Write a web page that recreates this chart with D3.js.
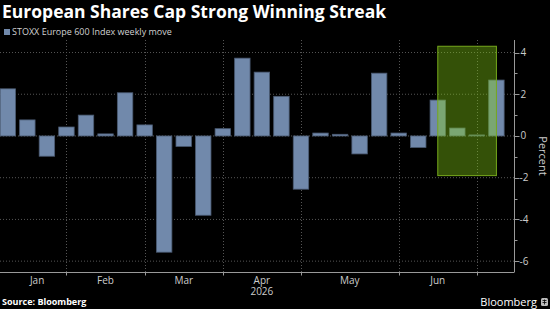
<!DOCTYPE html>
<html>
<head>
<meta charset="utf-8">
<script src="https://cdn.jsdelivr.net/npm/d3@7"></script>
<style>
  html, body { margin: 0; padding: 0; background: #000; }
  svg { display: block; }
</style>
</head>
<body>
<div class="chart-container"></div>
<script>
// weekly move of the STOXX Europe 600, in percent (one bar per week)
const weeklyMove = [2.26, 0.77, -0.97, 0.43, 1.0, 0.1, 2.07, 0.53, -5.57, -0.5, -3.8, 0.35, 3.73,
    3.06, 1.9, -2.55, 0.14, 0.08, -0.86, 3.01, 0.14, -0.55, 1.72, 0.38, 0.05, 2.68];
const months = ['Jan', 'Feb', 'Mar', 'Apr', 'May', 'Jun'];
// week index where each month starts / ends on the axis
const monthStart = [0, 3, 7, 11, 15, 20];
const monthEnd = [3, 7, 11, 15, 20, 24];
const yearLabel = '2026';
const yTicks = [4, 2, 0, -2, -4, -6];
const yMinorTicks = [3, 1, -1, -3, -5];
// green box over the last weeks
const highlightWeeks = [22, 25];
const highlightValues = [-1.9, 4.3];

const width = 550, height = 309;
const plot = { left: 0, right: 514, top: 40, bottom: 272 };

const svg = d3.select('.chart-container')
    .append('svg')
    .attr('width', width)
    .attr('height', height)
    .style('background', '#000');

// titre
svg.append('text')
    .attr('x', 2)
    .attr('y', 18)
    .attr('fill', '#fff')
    .attr('font-family', 'Open Sans, sans-serif')
    .attr('font-weight', 'bold')
    .attr('font-size', 17.5)
    .text('European Shares Cap Strong Winning Streak');

// legende
svg.append('rect')
    .attr('x', 4).attr('y', 29)
    .attr('width', 6).attr('height', 6)
    .attr('fill', '#7189ab');

svg.append('text')
    .attr('x', 12)
    .attr('y', 35)
    .attr('fill', '#d0d0d0')
    .attr('font-family', 'Open Sans, sans-serif')
    .attr('font-size', 9)
    .text('STOXX Europe 600 Index weekly move');

// echelles
const x = d3.scaleLinear()
    .domain([-0.4, 25.9])
    .range([plot.left, plot.right]);

const y = d3.scaleLinear()
    .domain([-6.52, 4.6])
    .range([plot.bottom, plot.top]);

const barWidth = (x(1) - x(0)) * 0.79;

// grille horizontale
svg.append('g')
    .selectAll('line')
    .data(yTicks)
    .enter()
    .append('line')
    .attr('x1', plot.left)
    .attr('x2', plot.right)
    .attr('y1', d => y(d))
    .attr('y2', d => y(d))
    .attr('stroke', '#555')
    .attr('stroke-width', 1)
    .attr('stroke-dasharray', '1,2');

// grille verticale (debut de mois)
svg.append('g')
    .selectAll('line')
    .data(monthEnd)
    .enter()
    .append('line')
    .attr('x1', d => Math.round(x(d)) + 0.5)
    .attr('x2', d => Math.round(x(d)) + 0.5)
    .attr('y1', plot.top)
    .attr('y2', plot.bottom)
    .attr('stroke', '#555')
    .attr('stroke-width', 1)
    .attr('stroke-dasharray', '1,2');

// barres
svg.append('g')
    .selectAll('.bar')
    .data(weeklyMove)
    .enter()
    .append('rect')
    .attr('class', 'bar')
    .attr('x', (d, i) => x(i) - barWidth / 2)
    .attr('y', d => y(Math.max(0, d)))
    .attr('width', barWidth)
    .attr('height', d => Math.max(1, Math.abs(y(d) - y(0))))
    .attr('fill', '#7189ab')
    .attr('stroke', '#4a5a72')
    .attr('stroke-width', 0.8);

// zone en surbrillance
svg.append('rect')
    .attr('x', x(highlightWeeks[0]))
    .attr('y', y(highlightValues[1]))
    .attr('width', x(highlightWeeks[1]) - x(highlightWeeks[0]))
    .attr('height', y(highlightValues[0]) - y(highlightValues[1]))
    .attr('fill', 'rgba(138, 214, 20, 0.38)')
    .attr('stroke', '#76a81c')
    .attr('stroke-width', 1);

// axe x
const xAxisG = svg.append('g')
    .attr('transform', `translate(0,${plot.bottom + 0.5})`);

xAxisG.append('line')
    .attr('x1', plot.left)
    .attr('x2', plot.right)
    .attr('stroke', '#999');

xAxisG.selectAll('.tick')
    .data(monthEnd)
    .enter()
    .append('line')
    .attr('x1', d => Math.round(x(d)) + 0.5)
    .attr('x2', d => Math.round(x(d)) + 0.5)
    .attr('y1', 0)
    .attr('y2', 3)
    .attr('stroke', '#999');

// label des mois, l'annee sous avril
const monthLabels = xAxisG.selectAll('.month')
    .data(months)
    .enter()
    .append('text')
    .attr('class', 'month')
    .attr('text-anchor', 'middle')
    .attr('fill', '#ccc')
    .attr('font-family', 'Open Sans, sans-serif')
    .attr('font-size', 10);

monthLabels.append('tspan')
    .attr('x', (d, i) => x((monthStart[i] + monthEnd[i]) / 2))
    .attr('y', 11)
    .text(d => d);

monthLabels.filter(d => d === 'Apr')
    .append('tspan')
    .attr('x', (d, i) => x((monthStart[3] + monthEnd[3]) / 2))
    .attr('dy', 11)
    .text(yearLabel);

// axe y a droite
const yAxisG = svg.append('g')
    .attr('transform', `translate(${plot.right + 0.5},0)`);

yAxisG.append('line')
    .attr('y1', plot.top)
    .attr('y2', plot.bottom + 0.5)
    .attr('stroke', '#999');

yAxisG.selectAll('.major')
    .data(yTicks)
    .enter()
    .append('line')
    .attr('x1', 0).attr('x2', 5)
    .attr('y1', d => Math.round(y(d)) + 0.5)
    .attr('y2', d => Math.round(y(d)) + 0.5)
    .attr('stroke', '#999');

yAxisG.selectAll('.minor')
    .data(yMinorTicks)
    .enter()
    .append('line')
    .attr('x1', 0).attr('x2', 3)
    .attr('y1', d => Math.round(y(d)) + 0.5)
    .attr('y2', d => Math.round(y(d)) + 0.5)
    .attr('stroke', '#999');

yAxisG.selectAll('.label')
    .data(yTicks)
    .enter()
    .append('text')
    .attr('x', d => d < 0 ? 5 : 6)
    .attr('y', d => y(d) + 3.5)
    .attr('fill', '#ccc')
    .attr('font-family', 'Open Sans, sans-serif')
    .attr('font-size', 10)
    .text(d => d);

svg.append('text')
    .attr('transform', `translate(539,${(plot.top + plot.bottom) / 2}) rotate(90)`)
    .attr('text-anchor', 'middle')
    .attr('fill', '#ccc')
    .attr('font-family', 'Open Sans, sans-serif')
    .attr('font-size', 11)
    .text('Percent');

// pied de page
svg.append('text')
    .attr('x', 2)
    .attr('y', 305)
    .attr('fill', '#fff')
    .attr('font-family', 'Open Sans, sans-serif')
    .attr('font-weight', 'bold')
    .attr('font-size', 9)
    .text('Source: Bloomberg');

svg.append('text')
    .attr('x', 537)
    .attr('y', 305.5)
    .attr('text-anchor', 'end')
    .attr('fill', '#fff')
    .attr('font-family', 'Open Sans, sans-serif')
    .attr('font-size', 11)
    .text('Bloomberg');

svg.append('rect')
    .attr('x', 541).attr('y', 298)
    .attr('width', 7).attr('height', 8)
    .attr('rx', 1.5)
    .attr('fill', '#bbb');

svg.append('path')
    .attr('d', 'M542.5,300.5 h4 M542.5,302.5 h4 M544.5,299.5 v5')
    .attr('stroke', '#000')
    .attr('stroke-width', 0.8);
</script>
</body>
</html>
